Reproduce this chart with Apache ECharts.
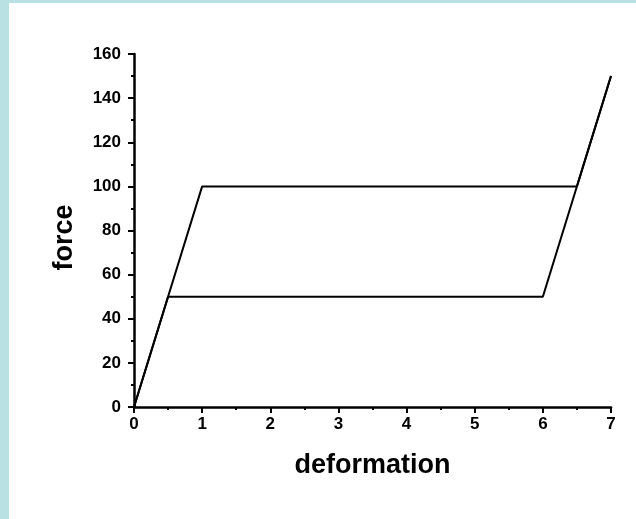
<!DOCTYPE html>
<html>
<head>
<meta charset="utf-8">
<script src="https://cdn.jsdelivr.net/npm/echarts@6/dist/echarts.min.js"></script>
<style>
  html, body { margin: 0; padding: 0; width: 636px; height: 519px; background: #b9e0e3; overflow: hidden; }
  #chart { position: absolute; left: 9px; top: 3px; width: 627px; height: 516px; background: #ffffff; }
</style>
</head>
<body>
<div id="chart"></div>
<script>
// Upper branch of the loop: elastic rise, yield plateau at 100, hardening
const upperX = [0, 1, 6.5, 7];
const upperY = [0, 100, 100, 150];
// Lower branch: elastic rise to 50, plateau at 50, rise to the same end point
const lowerX = [0, 0.5, 6, 7];
const lowerY = [0, 50, 50, 150];

const xTicks = [0, 1, 2, 3, 4, 5, 6, 7];
const yTicks = [0, 20, 40, 60, 80, 100, 120, 140, 160];

const pairs = (xs, ys) => xs.map((x, i) => [x, ys[i]]);

const font = 'Liberation Sans, Arial, sans-serif';
const chart = echarts.init(document.getElementById('chart'));

const axisCommon = {
  axisLine: { show: true, onZero: false, lineStyle: { color: '#000', width: 2.5 } },
  axisTick: { show: true, inside: false, length: 6, lineStyle: { color: '#000', width: 2 } },
  minorTick: { show: true, splitNumber: 2, length: 3, lineStyle: { color: '#000', width: 2 } },
  splitLine: { show: false },
  axisLabel: { color: '#000', fontFamily: font, fontWeight: 'bold', fontSize: 17 },
  nameTextStyle: { color: '#000', fontFamily: font, fontWeight: 'bold', fontSize: 27 }
};

chart.setOption({
  animation: false,
  grid: { left: 125, top: 51, right: 25, bottom: 112 },
  xAxis: Object.assign({}, axisCommon, {
    type: 'value',
    min: xTicks[0],
    max: xTicks[xTicks.length - 1],
    interval: 1,
    name: 'deformation',
    nameLocation: 'middle',
    nameGap: 45,
    axisLabel: Object.assign({}, axisCommon.axisLabel, { margin: 9 })
  }),
  yAxis: Object.assign({}, axisCommon, {
    type: 'value',
    min: yTicks[0],
    max: yTicks[yTicks.length - 1],
    interval: 20,
    name: 'force',
    nameLocation: 'middle',
    nameGap: 56,
    nameTextStyle: Object.assign({}, axisCommon.nameTextStyle, { padding: [0, 14, 0, 0] }),
    axisLabel: Object.assign({}, axisCommon.axisLabel, { margin: 13 })
  }),
  series: [
    {
      type: 'line',
      data: pairs(upperX, upperY),
      symbol: 'none',
      lineStyle: { color: '#000', width: 2 }
    },
    {
      type: 'line',
      data: pairs(lowerX, lowerY),
      symbol: 'none',
      lineStyle: { color: '#000', width: 2 }
    }
  ]
});
</script>
</body>
</html>
